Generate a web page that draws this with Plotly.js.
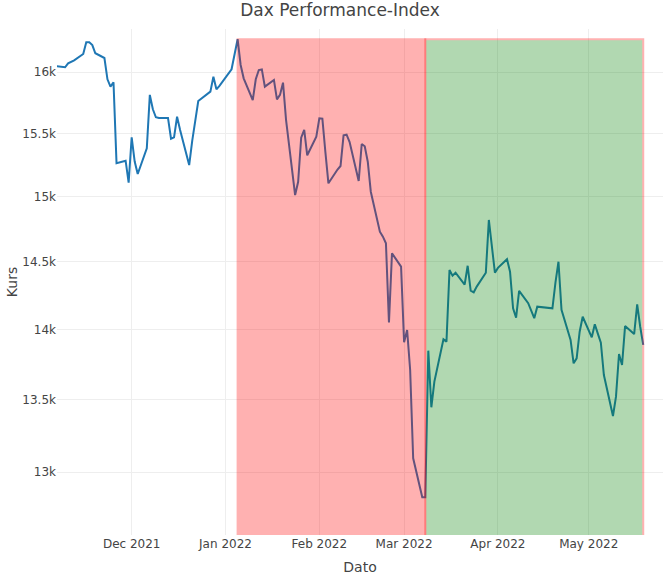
<!DOCTYPE html>
<html>
<head>
<meta charset="utf-8">
<script src="https://cdn.plot.ly/plotly-3.0.1.min.js"></script>
<style>html,body{margin:0;padding:0;background:#fff;}#chart{width:663px;height:575px;}</style>
</head>
<body>
<div id="chart"></div>
<script>
// Daily closing values
const dates = [
'2021-11-05','2021-11-08','2021-11-09','2021-11-10','2021-11-11','2021-11-12',
'2021-11-15','2021-11-16','2021-11-17','2021-11-18','2021-11-19',
'2021-11-22','2021-11-23','2021-11-24','2021-11-25','2021-11-26',
'2021-11-29','2021-11-30','2021-12-01','2021-12-02','2021-12-03',
'2021-12-06','2021-12-07','2021-12-08','2021-12-09','2021-12-10',
'2021-12-13','2021-12-14','2021-12-15','2021-12-16','2021-12-17',
'2021-12-20','2021-12-21','2021-12-22','2021-12-23',
'2021-12-27','2021-12-28','2021-12-29','2021-12-30',
'2022-01-03','2022-01-04','2022-01-05','2022-01-06','2022-01-07',
'2022-01-10','2022-01-11','2022-01-12','2022-01-13','2022-01-14',
'2022-01-17','2022-01-18','2022-01-19','2022-01-20','2022-01-21',
'2022-01-24','2022-01-25','2022-01-26','2022-01-27','2022-01-28',
'2022-01-31','2022-02-01','2022-02-02','2022-02-03','2022-02-04',
'2022-02-07','2022-02-08','2022-02-09','2022-02-10','2022-02-11',
'2022-02-14','2022-02-15','2022-02-16','2022-02-17','2022-02-18',
'2022-02-21','2022-02-22','2022-02-23','2022-02-24','2022-02-25',
'2022-02-28','2022-03-01','2022-03-02','2022-03-03','2022-03-04',
'2022-03-07','2022-03-08','2022-03-09','2022-03-10','2022-03-11',
'2022-03-14','2022-03-15','2022-03-16','2022-03-17','2022-03-18',
'2022-03-21','2022-03-22','2022-03-23','2022-03-24','2022-03-25',
'2022-03-28','2022-03-29','2022-03-30','2022-03-31','2022-04-01',
'2022-04-04','2022-04-05','2022-04-06','2022-04-07','2022-04-08',
'2022-04-11','2022-04-12','2022-04-13','2022-04-14',
'2022-04-19','2022-04-20','2022-04-21','2022-04-22',
'2022-04-25','2022-04-26','2022-04-27','2022-04-28','2022-04-29',
'2022-05-02','2022-05-03','2022-05-04','2022-05-05','2022-05-06',
'2022-05-09','2022-05-10','2022-05-11','2022-05-12','2022-05-13',
'2022-05-16','2022-05-17','2022-05-18','2022-05-19'
];
const kurs = [
16055,16048,16042,16075,16088,16100,
16153,16251,16251,16228,16159,
16119,15942,15881,15917,15262,
15282,15109,15469,15275,15177,
15381,15813,15696,15631,15625,
15625,15458,15469,15635,15528,
15248,15441,15592,15763,
15840,15963,15859,15887,
16025,16153,16277,16061,15950,
15771,15942,16019,16024,15881,
15936,15777,15813,15914,15610,
15012,15116,15466,15528,15325,
15474,15622,15619,15351,15104,
15212,15240,15485,15490,15431,
15122,15415,15397,15274,15038,
14729,14691,14641,14052,14565,
14464,13907,13996,13709,13094,
12832,12832,13847,13446,13626,
13929,13912,14439,14397,14419,
14330,14471,14285,14273,14315,
14419,14819,14610,14419,14455,
14520,14426,14155,14086,14283,
14192,14133,14082,14167,
14155,14345,14501,14143,
13924,13756,13792,13984,14093,
13943,14038,13970,13904,13673,
13385,13520,13823,13744,14025,
13967,14184,14020,13888
];
// Phases
const fallStart = '2022-01-05';
const fallEnd = '2022-03-08';
const riseEnd = '2022-05-19';
const yTickVals = [13000,13500,14000,14500,15000,15500,16000];
const yTickText = ['13k','13.5k','14k','14.5k','15k','15.5k','16k'];

const yTop = Math.max(...kurs);
const font = {family:'"DejaVu Sans", Verdana, sans-serif', size:12, color:'#444'};

const trace = {
  x: dates, y: kurs, type:'scatter', mode:'lines',
  line:{color:'#1f77b4', width:2}, showlegend:false
};

const layout = {
  width:663, height:575,
  font: font,
  paper_bgcolor:'#fff', plot_bgcolor:'#fff',
  margin:{l:57, r:0, t:29, b:40, pad:0},
  title:{text:'Dax Performance-Index', font:{family:font.family, size:17, color:'#444'},
         x:0.5128, xref:'container', xanchor:'center', y:0.9817, yref:'container', yanchor:'middle'},
  xaxis:{type:'date', range:['2021-11-06 08:00','2022-05-25 12:45'],
         title:{text:'Dato', font:{size:14}}, gridcolor:'#eee', zeroline:false,
         showline:false, ticks:''},
  yaxis:{type:'log', range:[4.09979, 4.21388], tickmode:'array',
         tickvals:yTickVals, ticktext:yTickText,
         title:{text:'Kurs', font:{size:14}}, gridcolor:'#eee', zeroline:false,
         showline:false, ticks:''},
  shapes:[
    {type:'rect', xref:'x', yref:'y', x0:fallStart, x1:fallEnd, y0:10000, y1:yTop,
     fillcolor:'red', opacity:0.3, layer:'above', line:{color:'red', width:2}},
    {type:'rect', xref:'x', yref:'y', x0:fallEnd, x1:riseEnd, y0:10000, y1:yTop,
     fillcolor:'green', opacity:0.3, layer:'above', line:{color:'red', width:2}}
  ]
};

Plotly.newPlot('chart', [trace], layout, {displayModeBar:false, staticPlot:true});
</script>
</body>
</html>
